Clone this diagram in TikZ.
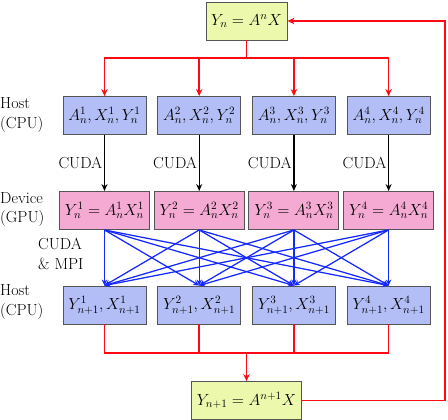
\RequirePackage{fix-cm}
\documentclass[tikz,border=0pt]{standalone}
\usetikzlibrary{arrows.meta}
\definecolor{ybox}{RGB}{236,249,172}
\definecolor{bbox}{RGB}{180,190,246}
\definecolor{pbox}{RGB}{245,170,212}
\definecolor{edgegray}{RGB}{85,85,85}
\definecolor{myred}{RGB}{255,10,20}
\definecolor{myblue}{RGB}{20,40,255}
\begin{document}
\begin{tikzpicture}[x=1pt,y=-1pt,font=\fontsize{16}{19.5}\selectfont,
  box/.style={draw=edgegray,line width=0.9pt,inner sep=0pt,minimum height=38pt},
  ybx/.style={box,fill=ybox},
  hostbox/.style={box,fill=bbox,minimum width=83pt},
  devbox/.style={box,fill=pbox,minimum width=90pt},
  redline/.style={draw=myred,line width=1.6pt},
  redarrow/.style={redline,-{Stealth[length=7pt,width=6.5pt]}},
  blackarrow/.style={draw=black,line width=1.4pt,-{Stealth[length=7pt,width=6pt]}},
  bluearrow/.style={draw=myblue,line width=1.25pt,-{Stealth[length=6pt,width=5.5pt]}},
  sidelabel/.style={align=left,anchor=west,inner sep=0pt}]
\useasboundingbox (0,0) rectangle (448,420);
\node[ybx,minimum width=81pt] (top) at (246.5,21) {$Y_n = A^n X$};
\node[ybx,minimum width=110pt] (bot) at (246.5,400.5) {$Y_{n+1} = A^{n+1} X$};
\foreach \i/\x in {1/104.5,2/199.2,3/293.9,4/388.6}{
  \node[hostbox] (h\i) at (\x,115.5) {$A_n^{\i}, X_n^{\i}, Y_n^{\i}$};
  \node[devbox] (d\i) at (\x,210.5) {$Y_n^{\i} = A_n^{\i} X_n^{\i}$};
  \node[hostbox] (g\i) at (\x,305) {$Y_{n+1}^{\i}, X_{n+1}^{\i}$};
}
\node[sidelabel] (l1) at (0,115) {Host\\(CPU)};
\node[sidelabel] (l2) at (0,209.5) {Device\\(GPU)};
\node[sidelabel] (l3) at (38,254) {CUDA\\\& MPI};
\node[sidelabel] (l4) at (0,302) {Host\\(CPU)};
\coordinate (split) at (246.5,58);
\coordinate (merge) at (246.5,353);
\coordinate (c1) at (445,400.5);
\coordinate (c2) at (445,21);
\draw[redline] (top.south) -- (split);
\foreach \i in {1,...,4}{
  \draw[redarrow] (split) -| (h\i.north);
  \draw[blackarrow] (h\i.south) -- (d\i.north) node[pos=0.5,anchor=east,inner sep=1.5pt] {CUDA};
  \draw[redline] (g\i.south) |- (merge);
  \foreach \j in {1,...,4}{
    \draw[bluearrow] (d\i.south) -- (g\j.north);
  }
}
\draw[redarrow] (merge) -- (bot.north);
\draw[redarrow] (bot.east) -- (c1) -- (c2) -- (top.east);
\end{tikzpicture}
\end{document}
